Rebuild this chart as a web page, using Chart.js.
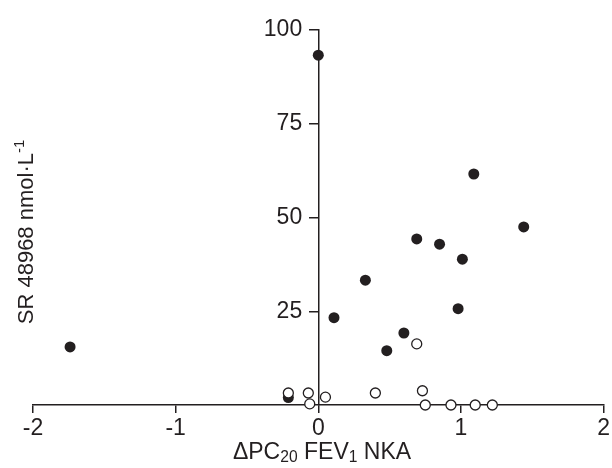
<!DOCTYPE html>
<html>
<head>
<meta charset="utf-8">
<script src="https://cdn.jsdelivr.net/npm/chart.js@4"></script>
<style>
  html, body { margin: 0; padding: 0; background: #fff; }
  #wrap { width: 612px; height: 468px; }
</style>
</head>
<body>
<div id="wrap"><canvas id="chart" width="612" height="468"></canvas></div>
<script>
// filled circles
const filledX = [-1.74, -0.21, 0.0, 0.11, 0.33, 0.48, 0.60, 0.69, 0.85, 0.98, 1.01, 1.09, 1.44];
const filledY = [15.5, 2.0, 93.3, 23.3, 33.3, 14.5, 19.2, 44.3, 42.9, 25.7, 38.9, 61.6, 47.5];
// open circles
const openX = [-0.21, -0.07, -0.06, 0.05, 0.40, 0.69, 0.73, 0.75, 0.93, 1.10, 1.22];
const openY = [3.2, 3.2, 0.3, 2.1, 3.2, 16.3, 3.8, 0, 0, 0, 0];

const xTicks = [-2, -1, 0, 1, 2];
const yTicks = [25, 50, 75, 100];

const FONT = "'Liberation Sans', Arial, sans-serif";

function toPoints(xs, ys) {
  return xs.map((x, i) => ({ x: x, y: ys[i] }));
}

// draws text runs with sub/superscripts
function drawRuns(ctx, runs, size) {
  let total = 0;
  runs.forEach(r => {
    ctx.font = (r.shift ? size * 0.68 : size) + 'px ' + FONT;
    r.w = ctx.measureText(r.t).width;
    total += r.w;
  });
  let x = -total / 2;
  runs.forEach(r => {
    ctx.font = (r.shift ? size * 0.68 : size) + 'px ' + FONT;
    ctx.fillText(r.t, x, (r.shift || 0) * size);
    x += r.w;
  });
}

const titles = {
  id: 'titles',
  afterDraw(chart) {
    const ctx = chart.ctx;
    ctx.save();
    ctx.fillStyle = '#231f20';
    ctx.textBaseline = 'middle';
    ctx.textAlign = 'left';
    // x title
    ctx.save();
    ctx.translate(322, 453);
    drawRuns(ctx, [{ t: 'ΔPC' }, { t: '20', shift: 0.22 }, { t: ' FEV' }, { t: '1', shift: 0.22 }, { t: ' NKA' }], 23);
    ctx.restore();
    // y title
    ctx.save();
    ctx.translate(27, 232);
    ctx.rotate(-Math.PI / 2);
    drawRuns(ctx, [{ t: 'SR 48968 nmol·L' }, { t: '-1', shift: -0.32 }], 22);
    ctx.restore();
    ctx.restore();
  }
};

new Chart(document.getElementById('chart').getContext('2d'), {
  type: 'scatter',
  data: {
    datasets: [
      {
        label: 'open',
        data: toPoints(openX, openY),
        pointRadius: 5,
        pointBorderWidth: 1.3,
        pointBackgroundColor: '#fff',
        pointBorderColor: '#231f20',
        clip: false,
        order: 0
      },
      {
        label: 'filled',
        data: toPoints(filledX, filledY),
        pointRadius: 5.5,
        pointBorderWidth: 0,
        pointBackgroundColor: '#231f20',
        pointBorderColor: '#231f20',
        clip: false,
        order: 1
      }
    ]
  },
  plugins: [titles],
  options: {
    responsive: false,
    animation: false,
    layout: { padding: { left: 33, right: 7, top: 30, bottom: 0 } },
    plugins: { legend: { display: false }, tooltip: { enabled: false } },
    scales: {
      x: {
        type: 'linear',
        min: -2,
        max: 2,
        afterBuildTicks: (s) => { s.ticks = xTicks.map(v => ({ value: v })); },
        afterFit: (s) => { s.height = 63; },
        border: { color: '#231f20', width: 1.5 },
        grid: { drawOnChartArea: false, color: '#231f20', lineWidth: 1.5, tickLength: 8 },
        ticks: { color: '#231f20', font: { family: FONT, size: 23 }, padding: 2, maxRotation: 0 }
      },
      y: {
        type: 'linear',
        position: { x: 0 },
        min: 0,
        max: 100,
        afterBuildTicks: (s) => { s.ticks = yTicks.map(v => ({ value: v })); },
        border: { color: '#231f20', width: 1.5 },
        grid: { drawOnChartArea: false, color: '#231f20', lineWidth: 1.5, tickLength: 9 },
        // a centred axis puts the label flush on the line, so pad it with spaces
        ticks: { color: '#231f20', font: { family: FONT, size: 23 }, callback: (v) => v + '\u2002\u2009' }
      }
    }
  }
});
</script>
</body>
</html>
